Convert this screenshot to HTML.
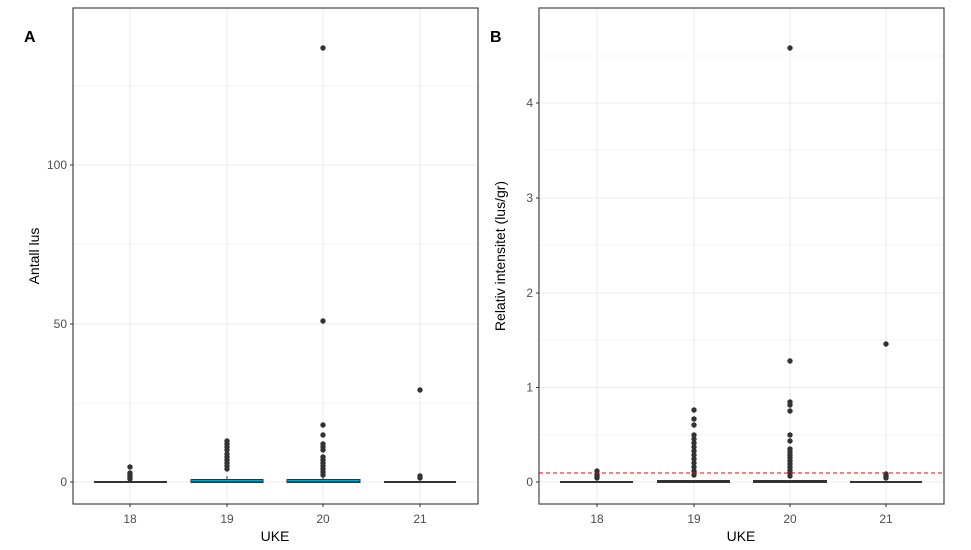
<!DOCTYPE html><html><head><meta charset="utf-8"><style>body{margin:0;background:#fff}svg{display:block}text{font-family:"Liberation Sans",sans-serif}</style></head><body>
<svg width="971" height="550" viewBox="0 0 971 550">
<rect width="971" height="550" fill="#fff"/>
<!-- Panel A -->
<g stroke="#ebebeb" stroke-width="0.6"><line x1="73" x2="478" y1="403" y2="403"/><line x1="73" x2="478" y1="244" y2="244"/><line x1="73" x2="478" y1="86" y2="86"/></g>
<g stroke="#ebebeb" stroke-width="1.1"><line x1="73" x2="478" y1="482" y2="482"/><line x1="73" x2="478" y1="324" y2="324"/><line x1="73" x2="478" y1="165" y2="165"/>
<line x1="130" x2="130" y1="8" y2="504"/><line x1="227" x2="227" y1="8" y2="504"/><line x1="323" x2="323" y1="8" y2="504"/><line x1="420" x2="420" y1="8" y2="504"/></g>
<g fill="#333">
<rect x="94" y="481" width="73" height="2"/>
<rect x="191" y="479.5" width="72" height="3" fill="#00a5c8" stroke="#333" stroke-width="1"/><line x1="191" x2="263" y1="482" y2="482" stroke="#333" stroke-width="1.2"/>
<rect x="287" y="479.5" width="73" height="3" fill="#00a5c8" stroke="#333" stroke-width="1"/><line x1="287" x2="360" y1="482" y2="482" stroke="#333" stroke-width="1.2"/>
<rect x="384" y="481" width="72" height="2"/>
<line x1="227" x2="227" y1="476" y2="480" stroke="#333"/><line x1="323" x2="323" y1="475" y2="480" stroke="#333"/>
<circle cx="130" cy="467" r="2.7"/><circle cx="130" cy="473" r="2.7"/><circle cx="130" cy="475" r="2.7"/><circle cx="130" cy="477" r="2.7"/><circle cx="130" cy="479" r="2.7"/>
<circle cx="227" cy="441" r="2.7"/><circle cx="227" cy="444" r="2.7"/><circle cx="227" cy="447" r="2.7"/><circle cx="227" cy="450" r="2.7"/><circle cx="227" cy="454" r="2.7"/><circle cx="227" cy="457" r="2.7"/><circle cx="227" cy="460" r="2.7"/><circle cx="227" cy="463" r="2.7"/><circle cx="227" cy="466" r="2.7"/><circle cx="227" cy="469" r="2.7"/>
<circle cx="323" cy="48" r="2.7"/><circle cx="323" cy="321" r="2.7"/><circle cx="323" cy="425" r="2.7"/><circle cx="323" cy="435" r="2.7"/><circle cx="323" cy="444" r="2.7"/><circle cx="323" cy="447" r="2.7"/><circle cx="323" cy="450" r="2.7"/><circle cx="323" cy="457" r="2.7"/><circle cx="323" cy="460" r="2.7"/><circle cx="323" cy="463" r="2.7"/><circle cx="323" cy="466" r="2.7"/><circle cx="323" cy="469" r="2.7"/><circle cx="323" cy="472" r="2.7"/><circle cx="323" cy="475" r="2.7"/>
<circle cx="420" cy="390" r="2.7"/><circle cx="420" cy="476" r="2.7"/><circle cx="420" cy="478" r="2.7"/>
</g>
<rect x="73" y="8" width="405" height="496" fill="none" stroke="#333" stroke-width="1.1"/>
<g stroke="#333"><line x1="70" x2="73" y1="482" y2="482"/><line x1="70" x2="73" y1="324" y2="324"/><line x1="70" x2="73" y1="165" y2="165"/>
<line x1="130" x2="130" y1="504" y2="507"/><line x1="227" x2="227" y1="504" y2="507"/><line x1="323" x2="323" y1="504" y2="507"/><line x1="420" x2="420" y1="504" y2="507"/></g>
<g font-size="12" fill="#4d4d4d" text-anchor="end"><text x="67" y="486">0</text><text x="67" y="328">50</text><text x="67" y="169">100</text></g>
<g font-size="12" fill="#4d4d4d" text-anchor="middle"><text x="130" y="523">18</text><text x="227" y="523">19</text><text x="323" y="523">20</text><text x="420" y="523">21</text></g>
<text x="275" y="541" font-size="14" text-anchor="middle">UKE</text>
<text transform="translate(39,256) rotate(-90)" font-size="14" text-anchor="middle">Antall lus</text>
<text x="24" y="42" font-size="16" font-weight="bold">A</text>
<!-- Panel B -->
<g stroke="#ebebeb" stroke-width="0.6"><line x1="539" x2="944" y1="435" y2="435"/><line x1="539" x2="944" y1="340" y2="340"/><line x1="539" x2="944" y1="245" y2="245"/><line x1="539" x2="944" y1="150" y2="150"/><line x1="539" x2="944" y1="56" y2="56"/></g>
<g stroke="#ebebeb" stroke-width="1.1"><line x1="539" x2="944" y1="482" y2="482"/><line x1="539" x2="944" y1="387.5" y2="387.5"/><line x1="539" x2="944" y1="293" y2="293"/><line x1="539" x2="944" y1="198" y2="198"/><line x1="539" x2="944" y1="103" y2="103"/>
<line x1="597" x2="597" y1="8" y2="504"/><line x1="694" x2="694" y1="8" y2="504"/><line x1="790" x2="790" y1="8" y2="504"/><line x1="886" x2="886" y1="8" y2="504"/></g>
<g fill="#333">
<rect x="560" y="481" width="73" height="2"/><rect x="657" y="480" width="73" height="3"/><rect x="753" y="480" width="74" height="3"/><rect x="850" y="481" width="72" height="2"/>
<circle cx="597" cy="471" r="2.7"/><circle cx="597" cy="474" r="2.7"/><circle cx="597" cy="476" r="2.7"/><circle cx="597" cy="478" r="2.7"/>
<circle cx="694" cy="410" r="2.7"/><circle cx="694" cy="419" r="2.7"/><circle cx="694" cy="425" r="2.7"/><circle cx="694" cy="435" r="2.7"/><circle cx="694" cy="439" r="2.7"/><circle cx="694" cy="443" r="2.7"/><circle cx="694" cy="447" r="2.7"/><circle cx="694" cy="451" r="2.7"/><circle cx="694" cy="455" r="2.7"/><circle cx="694" cy="459" r="2.7"/><circle cx="694" cy="463" r="2.7"/><circle cx="694" cy="467" r="2.7"/><circle cx="694" cy="471" r="2.7"/><circle cx="694" cy="475" r="2.7"/>
<circle cx="790" cy="48" r="2.7"/><circle cx="790" cy="361" r="2.7"/><circle cx="790" cy="402" r="2.7"/><circle cx="790" cy="405" r="2.7"/><circle cx="790" cy="411" r="2.7"/><circle cx="790" cy="435" r="2.7"/><circle cx="790" cy="441" r="2.7"/><circle cx="790" cy="449" r="2.7"/><circle cx="790" cy="452" r="2.7"/><circle cx="790" cy="455" r="2.7"/><circle cx="790" cy="458" r="2.7"/><circle cx="790" cy="461" r="2.7"/><circle cx="790" cy="464" r="2.7"/><circle cx="790" cy="467" r="2.7"/><circle cx="790" cy="470" r="2.7"/><circle cx="790" cy="473" r="2.7"/><circle cx="790" cy="476" r="2.7"/>
<circle cx="886" cy="344" r="2.7"/><circle cx="886" cy="474" r="2.7"/><circle cx="886" cy="476" r="2.7"/><circle cx="886" cy="478" r="2.7"/>
</g>
<line x1="539" x2="944" y1="473" y2="473" stroke="#e00" stroke-width="1" stroke-dasharray="4,3"/>
<rect x="539" y="8" width="405" height="496" fill="none" stroke="#333" stroke-width="1.1"/>
<g stroke="#333"><line x1="536" x2="539" y1="482" y2="482"/><line x1="536" x2="539" y1="387.5" y2="387.5"/><line x1="536" x2="539" y1="293" y2="293"/><line x1="536" x2="539" y1="198" y2="198"/><line x1="536" x2="539" y1="103" y2="103"/>
<line x1="597" x2="597" y1="504" y2="507"/><line x1="694" x2="694" y1="504" y2="507"/><line x1="790" x2="790" y1="504" y2="507"/><line x1="886" x2="886" y1="504" y2="507"/></g>
<g font-size="12" fill="#4d4d4d" text-anchor="end"><text x="533" y="486">0</text><text x="533" y="391.5">1</text><text x="533" y="297">2</text><text x="533" y="202">3</text><text x="533" y="107">4</text></g>
<g font-size="12" fill="#4d4d4d" text-anchor="middle"><text x="597" y="523">18</text><text x="694" y="523">19</text><text x="790" y="523">20</text><text x="886" y="523">21</text></g>
<text x="741" y="541" font-size="14" text-anchor="middle">UKE</text>
<text transform="translate(505,256) rotate(-90)" font-size="14" text-anchor="middle">Relativ intensitet (lus/gr)</text>
<text x="490" y="42" font-size="16" font-weight="bold">B</text>
</svg></body></html>
